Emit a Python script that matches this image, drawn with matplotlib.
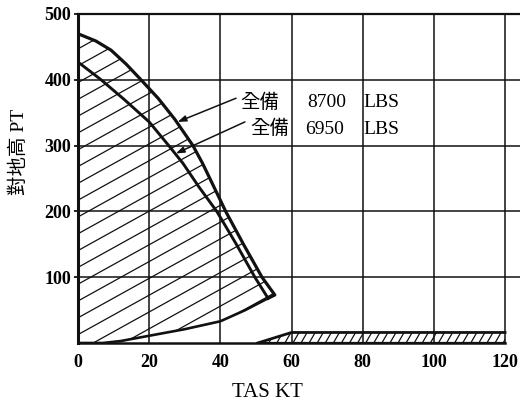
import numpy as np
import matplotlib.pyplot as plt
from matplotlib.patches import Polygon
from matplotlib.collections import LineCollection

plt.rcParams['font.family'] = ['Liberation Serif', 'Noto Sans CJK TC']

# height-velocity avoid region, TAS (kt) vs height (ft)
heavy_kt = [0, 5, 9.3, 13.5, 17.7, 22.5, 27.2, 32.3, 35, 40, 41.5, 46.5, 51.7, 55.3]
heavy_ft = [470, 459, 445, 424, 400, 372, 340, 300, 273, 217, 200, 150, 100, 73]
light_kt = [0, 6.5, 13, 20, 25.5, 29.5, 34, 39, 44.5, 49.7, 53.4]
light_ft = [427, 400, 370, 336, 300, 273, 237, 200, 150, 100, 68]
low_kt = [53.4, 47, 40, 30, 20, 12, 7]
low_ft = [68, 50, 33, 21, 11, 3, 0]
fast_kt = [50.5, 60, 120, 120]
fast_ft = [0, 16, 16, 0]

xticks = [0, 20, 40, 60, 80, 100, 120]
yticks = [100, 200, 300, 400, 500]

W, H = 520, 403
L, B, AW, AH = 78, 60, 442, 329
XMAX, YMAX = 124.2, 500

fig = plt.figure(figsize=(W / 100, H / 100), dpi=100)
ax = fig.add_axes([L / W, B / H, AW / W, AH / H])
ax.set_xlim(0, XMAX)
ax.set_ylim(0, YMAX)


def hatch(patch, angle, gap, lw):
    # straight hatch lines laid out in pixel space, clipped to the patch
    sx, sy = AW / XMAX, AH / YMAX
    a = np.radians(angle)
    d = np.array([np.cos(a), np.sin(a)])
    n = np.array([-np.sin(a), np.cos(a)])
    segs = []
    for k in range(-80, 80):
        c = np.array([AW / 2, AH / 2]) + k * gap * n
        p0, p1 = c - 800 * d, c + 800 * d
        segs.append([(p0[0] / sx, p0[1] / sy), (p1[0] / sx, p1[1] / sy)])
    lc = LineCollection(segs, colors='#111111', linewidths=lw, zorder=2)
    ax.add_collection(lc)
    lc.set_clip_path(patch)


# main avoid region
outline_x = [0] + heavy_kt + low_kt + [0]
outline_y = [0] + heavy_ft + low_ft + [0]
main = Polygon(list(zip(outline_x, outline_y)), closed=True,
               facecolor='none', edgecolor='none')
ax.add_patch(main)
hatch(main, 29, 14.7, 0.9)

# high speed strip
strip = Polygon(list(zip(fast_kt, fast_ft)), closed=True,
                facecolor='none', edgecolor='none')
ax.add_patch(strip)
hatch(strip, 60, 7.0, 0.9)

ax.plot(heavy_kt + [low_kt[0]], heavy_ft + [low_ft[0]], color='#111111', lw=2.3,
        zorder=3, solid_joinstyle='round')
ax.plot(light_kt, light_ft, color='#111111', lw=2.1, zorder=3, solid_joinstyle='round')
ax.plot(low_kt + [0], low_ft + [0], color='#111111', lw=1.9, zorder=3)
ax.plot(fast_kt[:3], fast_ft[:3], color='#111111', lw=2.0, zorder=3)
ax.plot([fast_kt[0], fast_kt[3]], [0, 0], color='#111111', lw=1.6, zorder=3)

# grid
ax.set_xticks(xticks)
ax.set_yticks(yticks)
ax.grid(True, color='#111111', lw=1.1, zorder=1)
ax.set_axisbelow(True)

for s in ['left', 'top', 'bottom']:
    ax.spines[s].set_color('#111111')
ax.spines['left'].set_linewidth(2.2)
ax.spines['top'].set_linewidth(1.6)
ax.spines['bottom'].set_linewidth(1.8)
ax.spines['bottom'].set_bounds(0, 120)
ax.spines['right'].set_visible(False)

ax.tick_params(axis='x', length=0, pad=8, labelsize=13)
ax.tick_params(axis='y', length=3, width=1.2, pad=2, labelsize=13)
for t in ax.get_xticklabels() + ax.get_yticklabels():
    t.set_fontweight('bold')

ax.set_xlabel('TAS KT', fontsize=15)
ax.xaxis.set_label_coords(0.428, -0.122)
ax.set_ylabel('對地高 PT', fontsize=14)
ax.yaxis.set_label_coords(-0.113, 0.58)

# curve labels
arrow = dict(arrowstyle='-|>,head_length=0.5,head_width=0.18', color='#111111',
             lw=1.1, shrinkA=0, shrinkB=0)
ax.annotate('', xy=(28, 336), xytext=(44.4, 372), arrowprops=arrow, zorder=4)
ax.annotate('', xy=(27.5, 288), xytext=(46.9, 336), arrowprops=arrow, zorder=4)

ax.text(45.5, 366, '全備', fontsize=14, va='center', ha='left')
ax.text(64.3, 366, '8700', fontsize=14, va='center', ha='left')
ax.text(80.1, 366, 'LBS', fontsize=14, va='center', ha='left')
ax.text(48.3, 325, '全備', fontsize=14, va='center', ha='left')
ax.text(63.8, 325, '6950', fontsize=14, va='center', ha='left')
ax.text(80.1, 325, 'LBS', fontsize=14, va='center', ha='left')

fig.savefig('out.png', dpi=100)
